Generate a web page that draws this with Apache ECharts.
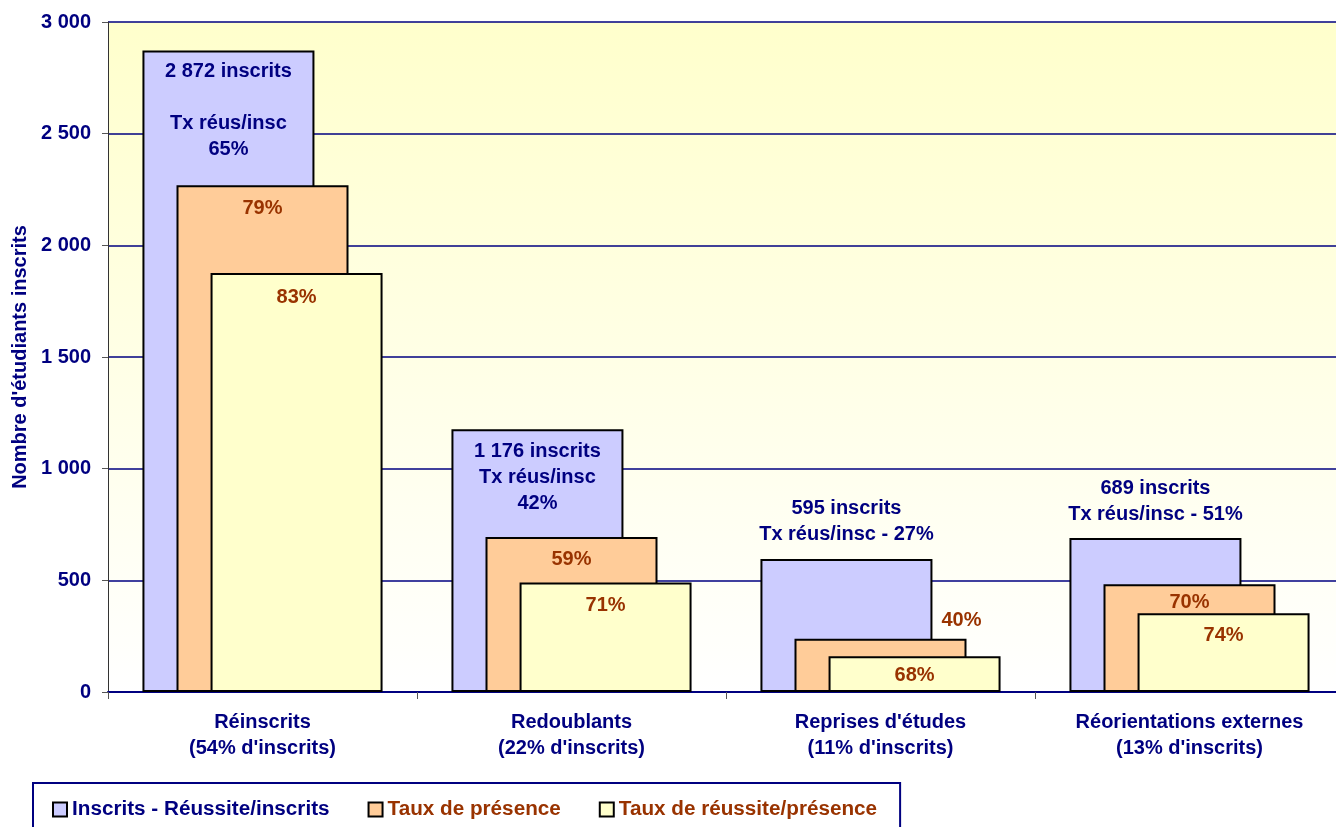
<!DOCTYPE html>
<html>
<head>
<meta charset="utf-8">
<script src="https://cdn.jsdelivr.net/npm/echarts@6/dist/echarts.min.js"></script>
<style>
  html, body { margin: 0; padding: 0; background: #fff; }
  #chart { width: 1336px; height: 827px; }
</style>
</head>
<body>
<div id="chart"></div>
<script>
var categories = ['Réinscrits\n(54% d\'inscrits)', 'Redoublants\n(22% d\'inscrits)', 'Reprises d\'études\n(11% d\'inscrits)', 'Réorientations externes\n(13% d\'inscrits)'];
var seriesNames = ['Inscrits - Réussite/inscrits', 'Taux de présence', 'Taux de réussite/présence'];
var inscrits = [2872, 1176, 595, 689];
var presence = [2269, 694, 238, 482];
var reussite = [1876, 490, 160, 353];
var inscritsLabels = ['2 872 inscrits\n\nTx réus/insc\n65%', '1 176 inscrits\nTx réus/insc\n42%', '595 inscrits\nTx réus/insc - 27%', '689 inscrits\nTx réus/insc - 51%'];
var presenceLabels = ['79%', '59%', '40%', '70%'];
var reussiteLabels = ['83%', '71%', '68%', '74%'];
var yTicks = [0, 500, 1000, 1500, 2000, 2500, 3000];

var navy = '#000080';
var brown = '#993300';
var font = 'Arial, "Liberation Sans", sans-serif';

function fmt(v) {
  return String(v).replace(/\B(?=(\d{3})+(?!\d))/g, ' ');
}

// label placement for each bar: [position, distance, x offset]
var inscritsPos = [['insideTop', 8], ['insideTop', 9], ['top', 12], ['top', 11]];
var presencePos = [['insideTop', 10, 0], ['insideTop', 9, 0], ['top', 5, 81], ['insideTop', 5, 0]];
var reussitePos = [['insideTop', 11], ['insideTop', 10], ['insideTop', 6], ['insideTop', 9]];

function build(values, texts, pos, color) {
  return values.map(function (v, i) {
    return {
      value: v,
      label: {
        show: true,
        position: pos[i][0],
        distance: pos[i][1],
        offset: [pos[i][2] || 0, 0],
        formatter: texts[i],
        color: color,
        fontFamily: font,
        fontWeight: 'bold',
        fontSize: 20,
        lineHeight: 26,
        align: 'center'
      }
    };
  });
}

var barStyle = function (c) {
  return { color: c, borderColor: '#000', borderWidth: 2 };
};

var chart = echarts.init(document.getElementById('chart'));
chart.setOption({
  animation: false,
  grid: {
    left: 108, top: 22, bottom: 135, right: -8,
    outerBoundsMode: 'none',
    containLabel: false,
    show: true,
    borderWidth: 0,
    backgroundColor: {
      type: 'linear', x: 0, y: 0, x2: 0, y2: 1,
      colorStops: [{ offset: 0, color: '#FFFFCC' }, { offset: 1, color: '#FFFFFF' }]
    }
  },
  legend: {
    left: 33, top: 783,
    orient: 'horizontal',
    itemWidth: 14, itemHeight: 14,
    itemGap: 38,
    padding: [16, 23, 30, 19],
    borderColor: navy,
    borderWidth: 2,
    backgroundColor: '#fff',
    icon: 'rect',
    textStyle: { fontFamily: font, fontWeight: 'bold', fontSize: 20.7 },
    data: [
      { name: seriesNames[0], textStyle: { color: navy } },
      { name: seriesNames[1], textStyle: { color: brown } },
      { name: seriesNames[2], textStyle: { color: brown } }
    ]
  },
  xAxis: {
    type: 'category',
    data: categories,
    axisLine: { lineStyle: { color: navy, width: 2 } },
    axisTick: { show: true, length: 7, lineStyle: { color: '#555' } },
    axisLabel: {
      margin: 17,
      color: navy,
      fontFamily: font,
      fontWeight: 'bold',
      fontSize: 20,
      lineHeight: 26
    }
  },
  yAxis: {
    type: 'value',
    min: 0, max: 3000, interval: 500,
    name: 'Nombre d\'étudiants inscrits',
    nameLocation: 'middle',
    nameRotate: 90,
    nameGap: 78,
    nameTextStyle: { color: navy, fontFamily: font, fontWeight: 'bold', fontSize: 20 },
    axisLine: { show: true, lineStyle: { color: '#333', width: 1 } },
    axisTick: { show: true, length: 6, lineStyle: { color: '#555' } },
    axisLabel: {
      margin: 17,
      color: navy,
      fontFamily: font,
      fontWeight: 'bold',
      fontSize: 20,
      formatter: function (v) { return yTicks.indexOf(v) >= 0 ? fmt(v) : ''; }
    },
    splitLine: { show: true, lineStyle: { color: navy, width: 1.5 } }
  },
  series: [
    {
      name: seriesNames[0], type: 'bar',
      barWidth: 172, barGap: '-80.2%',
      itemStyle: barStyle('#CCCCFF'),
      data: build(inscrits, inscritsLabels, inscritsPos, navy)
    },
    {
      name: seriesNames[1], type: 'bar',
      barWidth: 172, barGap: '-80.2%',
      itemStyle: barStyle('#FFCC99'),
      data: build(presence, presenceLabels, presencePos, brown)
    },
    {
      name: seriesNames[2], type: 'bar',
      barWidth: 172, barGap: '-80.2%',
      itemStyle: barStyle('#FFFFCC'),
      data: build(reussite, reussiteLabels, reussitePos, brown)
    }
  ]
});
</script>
</body>
</html>
